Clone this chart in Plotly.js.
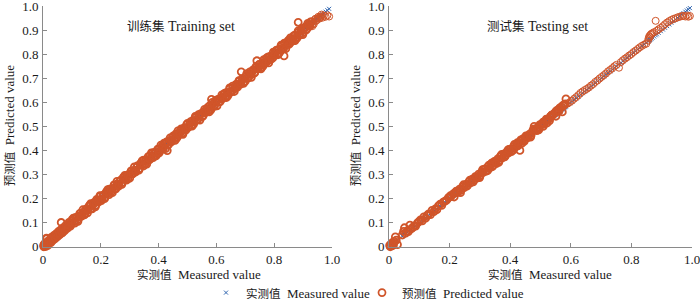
<!DOCTYPE html>
<html>
<head>
<meta charset="utf-8">
<script src="https://cdn.plot.ly/plotly-3.0.1.min.js"></script>
<style>html,body{margin:0;padding:0;background:#fff;}#chart{width:700px;height:308px;}</style>
</head>
<body>
<div id="chart"></div>
<script>
// ---------- Training set ----------
const trainMeasured = [
0.002,0.004,0.005,0.007,0.009,0.011,0.013,0.016,0.019,0.022,0.025,0.028,0.032,0.036,0.040,0.044,0.048,0.052,0.056,0.060,0.064,0.068,0.072,0.077,0.082,0.087,0.092,0.097,
0.102,0.108,0.113,0.118,0.124,0.129,0.134,0.140,0.145,0.150,0.156,0.161,0.166,0.172,0.177,0.182,0.188,0.193,0.198,0.204,0.209,0.214,0.220,0.225,0.230,0.236,0.241,0.246,0.252,0.257,0.262,0.268,0.273,0.278,0.284,0.289,0.294,0.300,0.305,0.310,0.316,0.321,0.326,0.332,0.337,0.342,0.348,0.353,0.358,0.364,0.369,0.374,0.380,0.385,0.390,0.396,
0.401,0.407,0.412,0.417,0.423,0.428,0.433,0.439,0.444,0.449,0.455,0.460,0.465,0.471,0.476,0.481,0.487,0.492,0.497,0.503,0.508,0.513,0.519,0.524,0.529,0.535,0.540,0.545,0.551,0.556,0.561,0.567,0.572,0.577,0.583,0.588,0.593,0.599,0.604,0.609,0.615,0.620,0.625,0.631,0.636,0.641,0.647,0.652,0.657,0.663,0.668,0.673,0.679,0.684,0.689,0.695,0.700,0.705,0.711,0.716,0.721,0.727,0.732,0.737,0.743,0.748,0.753,0.759,0.764,0.769,0.775,0.780,0.785,0.791,0.796,0.801,0.807,0.812,0.817,0.823,0.828,0.833,0.839,0.844,0.849,0.855,0.860,0.865,0.871,0.876,0.881,0.887,0.892,0.897,0.903,0.908,0.913,0.919,0.924,0.929,0.935,0.940,0.945,0.951,0.956,0.961,0.967,0.972,0.978,0.984,0.990,
0.686,0.740,0.583,0.883,0.834,0.430,0.063,0.012,
0.003,0.006,0.010,0.014,0.017,0.021,0.027,0.030,0.034,0.038,0.042,0.046,0.050,0.054,0.058,0.062,0.066,0.070,0.075,0.080,0.085,0.090,0.095,0.100,
0.105,0.110,0.116,0.121,0.127,0.132,0.138,0.143,0.148,0.154,0.159,0.165,0.170,0.175,0.181,0.186,0.192,0.197,0.202,0.208,0.213,0.219,0.224,0.229,0.235,0.240,0.246,0.251,0.256,0.262,0.267,0.273,0.278,0.283,0.289,0.294,0.300,0.305,0.310,0.316,0.321,0.327,0.332,0.337,0.343,0.348,0.354,0.359,0.364,0.370,0.375,0.381,0.386,0.391,0.397,
0.402,0.408,0.413,0.419,0.424,0.430,0.435,0.440,0.446,0.451,0.457,0.462,0.467,0.473,0.478,0.484,0.489,0.494,0.500,0.505,0.511,0.516,0.521,0.527,0.532,0.538,0.543,0.548,0.554,0.559,0.565,0.570,0.575,0.581,0.586,0.592,0.597,0.602,0.608,0.613,0.619,0.624,0.629,0.635,0.640,0.646,0.651,0.656,0.662,0.667,0.673,0.678,0.683,0.689,0.694,0.700,0.705,0.710,0.716,0.721,0.727,0.732,0.737,0.743,0.748,0.754,0.759,0.764,0.770,0.775,0.781,0.786,0.791,0.797,0.802,0.808,0.813,0.818,0.824,0.829,0.835,0.840,0.845,0.851,0.856,0.862,0.867,0.872,0.878,0.883,0.889,0.894,0.899,0.905,0.910,0.916,0.921,0.926,0.932,0.937,0.943,0.948,0.953,0.959,0.964
];
const trainPredicted = [
0.006,0.001,0.012,0.004,0.015,0.008,0.034,0.012,0.022,0.018,0.030,0.025,0.038,0.031,0.045,0.040,0.050,0.047,0.061,0.055,0.068,0.060,0.075,0.074,0.085,0.083,0.095,0.094,
0.108,0.104,0.122,0.111,0.127,0.139,0.128,0.144,0.136,0.157,0.153,0.172,0.158,0.174,0.185,0.172,0.193,0.191,0.210,0.198,0.213,0.205,0.227,0.222,0.240,0.229,0.243,0.255,0.241,0.262,0.258,0.276,0.267,0.289,0.281,0.295,0.284,0.304,0.314,0.303,0.319,0.316,0.336,0.324,0.343,0.340,0.360,0.344,0.362,0.358,0.377,0.370,0.391,0.378,0.393,0.386,
0.405,0.401,0.418,0.410,0.427,0.436,0.426,0.443,0.436,0.457,0.451,0.470,0.457,0.474,0.483,0.472,0.492,0.489,0.508,0.497,0.513,0.505,0.526,0.520,0.538,0.528,0.543,0.553,0.541,0.561,0.557,0.574,0.566,0.587,0.580,0.594,0.584,0.603,0.612,0.602,0.618,0.615,0.634,0.623,0.642,0.639,0.658,0.644,0.661,0.657,0.676,0.669,0.689,0.677,0.692,0.685,0.706,0.713,0.703,0.720,0.716,0.736,0.724,0.744,0.740,0.759,0.745,0.763,0.757,0.778,0.770,0.790,0.778,0.794,0.787,0.808,0.815,0.803,0.822,0.816,0.838,0.826,0.845,0.841,0.859,0.848,0.864,0.857,0.880,0.870,0.890,0.879,0.897,0.889,0.909,0.915,0.906,0.924,0.918,0.936,0.930,0.944,0.940,0.952,0.949,0.958,0.953,0.962,0.957,0.963,0.958,
0.728,0.774,0.613,0.934,0.794,0.400,0.101,0.036,
0.000,0.011,0.002,0.020,0.006,0.028,0.017,0.040,0.027,0.047,0.034,0.055,0.042,0.064,0.050,0.071,0.058,0.080,0.067,0.091,0.077,0.101,0.086,0.112,
0.119,0.098,0.120,0.106,0.138,0.126,0.154,0.133,0.155,0.141,0.168,0.179,0.158,0.179,0.166,0.197,0.186,0.213,0.192,0.215,0.200,0.228,0.238,0.217,0.239,0.225,0.257,0.245,0.272,0.252,0.274,0.260,0.287,0.297,0.277,0.298,0.285,0.316,0.304,0.332,0.311,0.334,0.319,0.346,0.357,0.336,0.358,0.344,0.375,0.364,0.391,0.371,0.393,0.378,0.406,
0.391,0.423,0.409,0.431,0.408,0.436,0.426,0.453,0.444,0.461,0.443,0.451,0.482,0.469,0.490,0.468,0.495,0.485,0.513,0.503,0.521,0.502,0.510,0.542,0.528,0.550,0.527,0.554,0.545,0.572,0.563,0.580,0.561,0.570,0.601,0.588,0.609,0.586,0.614,0.604,0.632,0.622,0.639,0.621,0.629,0.661,0.647,0.668,0.646,0.673,0.664,0.691,0.681,0.699,0.680,0.689,0.720,0.706,0.728,0.705,0.733,0.723,0.750,0.741,0.758,0.740,0.748,0.779,0.766,0.787,0.765,0.792,0.782,0.810,0.800,0.818,0.799,0.807,0.839,0.825,0.847,0.824,0.851,0.842,0.869,0.860,0.877,0.858,0.867,0.898,0.885,0.906,0.883,0.911,0.901,0.929,0.919,0.936,0.918,0.926,0.949,0.944,0.957,0.953,0.966
];

// ---------- Testing set ----------
const testMeasured = [
0.002,0.004,0.007,0.010,0.012,0.015,0.018,0.021,0.024,0.028,0.044,0.048,0.051,0.055,0.060,0.064,0.069,0.073,0.078,0.083,0.088,0.094,0.099,0.104,0.110,0.115,0.121,0.126,0.131,0.137,0.142,0.148,0.153,0.158,0.163,0.169,0.174,0.179,0.185,0.190,0.196,0.201,0.206,0.212,0.217,0.222,0.227,0.233,0.238,0.243,0.248,0.254,0.259,0.264,0.269,0.275,0.280,0.285,0.290,0.296,0.301,0.306,0.311,0.317,0.322,0.327,0.332,0.338,0.343,0.348,0.353,0.359,0.364,0.369,0.374,0.380,0.385,0.390,0.395,0.401,0.406,0.411,0.416,0.422,0.427,0.432,0.437,0.443,0.448,0.453,0.458,0.464,0.469,0.474,0.479,0.485,0.490,0.495,0.501,0.506,0.511,0.516,0.522,0.527,0.532,0.537,0.543,0.548,0.553,0.558,0.564,0.569,0.574,0.580,0.584,
0.590,0.597,0.604,0.611,0.618,0.625,0.632,0.639,0.646,0.653,0.660,0.667,0.674,0.681,0.688,0.695,0.702,0.709,0.716,0.723,0.730,0.737,0.744,0.751,0.759,0.765,0.772,0.779,0.786,0.793,0.800,0.807,0.814,0.821,0.828,0.835,0.842,0.849,0.855,0.857,0.859,0.861,0.863,0.866,0.870,0.875,0.880,0.884,0.890,0.897,0.904,0.911,0.918,0.925,0.932,0.939,0.946,0.953,0.960,0.967,0.972,0.978,0.983,0.988,0.993,
0.203,0.215,0.225,0.236,0.246,0.257,0.267,0.278,0.288,0.299,0.309,0.320,0.330,0.341,0.351,0.362,0.372,0.383,0.393,0.404,0.414,0.425,0.435,0.446,0.456,0.467,0.477,0.488,0.498,0.509,0.519,0.530,0.540,0.551,0.561,0.572,0.582,
0.298,0.312,0.326,0.340,0.354,0.368,0.382,0.396,0.410,0.424,0.438,0.452,0.466,0.480,0.494,0.508,0.522,0.536,0.550,0.564,0.578
];
const testPredicted = [
0.006,0.000,0.012,0.004,0.018,0.008,0.022,0.041,0.028,0.009,0.049,0.064,0.079,0.057,0.066,0.063,0.090,0.074,0.080,0.087,0.086,0.099,0.105,0.112,0.108,0.124,0.119,0.131,0.137,0.134,0.151,0.146,0.158,0.154,0.170,0.177,0.172,0.186,0.190,0.194,0.204,0.207,0.212,0.220,0.224,0.231,0.226,0.240,0.236,0.250,0.246,0.259,0.255,0.271,0.266,0.281,0.277,0.292,0.286,0.302,0.297,0.312,0.309,0.324,0.316,0.334,0.328,0.346,0.337,0.355,0.349,0.366,0.358,0.377,0.370,0.386,0.381,0.397,0.391,0.406,0.402,0.418,0.413,0.428,0.423,0.401,0.441,0.450,0.445,0.460,0.454,0.469,0.464,0.482,0.501,0.488,0.496,0.493,0.507,0.511,0.509,0.523,0.527,0.532,0.541,0.548,0.551,0.558,0.566,0.570,0.578,0.582,0.588,0.591,0.615,
0.596,0.602,0.608,0.616,0.623,0.631,0.640,0.646,0.652,0.657,0.663,0.671,0.677,0.686,0.692,0.700,0.707,0.714,0.721,0.730,0.736,0.743,0.751,0.757,0.745,0.768,0.776,0.783,0.789,0.796,0.802,0.810,0.816,0.823,0.830,0.836,0.841,0.845,0.858,0.868,0.876,0.872,0.882,0.886,0.889,0.893,0.940,0.899,0.905,0.911,0.918,0.926,0.933,0.939,0.944,0.948,0.951,0.955,0.957,0.960,0.961,0.958,0.962,0.957,0.960,
0.213,0.207,0.228,0.225,0.258,0.252,0.277,0.270,0.291,0.288,0.321,0.315,0.340,0.333,0.354,0.351,0.384,0.378,0.403,0.396,0.426,0.420,0.445,0.438,0.459,0.456,0.489,0.483,0.508,0.501,0.531,0.525,0.550,0.543,0.564,0.561,0.594,
0.291,0.321,0.318,0.349,0.346,0.377,0.374,0.405,0.402,0.433,0.430,0.461,0.458,0.489,0.486,0.518,0.515,0.547,0.561,0.576,0.590
];

// ---------- Labels ----------
const xTickVals = [0, 0.2, 0.4, 0.6, 0.8, 1.0];
const xTickText = ['0', '0.2', '0.4', '0.6', '0.8', '1.0'];
const yTickVals = [0, 0.1, 0.2, 0.3, 0.4, 0.5, 0.6, 0.7, 0.8, 0.9, 1.0];
const yTickText = ['0', '0.1', '0.2', '0.3', '0.4', '0.5', '0.6', '0.7', '0.8', '0.9', '1.0'];
const panelTitlesCn = ['训练集', '测试集'];
const panelTitlesEn = ['Training set', 'Testing set'];
const xTitleCn = '实测值', xTitleEn = 'Measured value';
const yTitleCn = '预测值', yTitleEn = 'Predicted value';
const seriesCn = ['实测值', '预测值'];
const seriesEn = ['Measured value', 'Predicted value'];

const FONT = 'Liberation Serif, Times New Roman, Noto Sans CJK SC, serif';
const CJK = 'Noto Sans CJK SC';
const BLUE = '#3166B0';
const ORANGE = '#D0552A';
const TXT = '#1a1a1a';

function mix(cn, en, cnSize, gap) {
  return '<span style="font-family:' + CJK + ';font-size:' + cnSize + 'px">' + cn + '</span>' + gap + en;
}

// dense (overlapping) part of each cloud gets a heavier ring so it reads as a solid band
function ringWidths(m, limit) {
  return m.map(v => (v < limit ? 1.8 : 1.0));
}

function measuredTrace(m, xa, ya, show) {
  return {x: m, y: m, xaxis: xa, yaxis: ya, type: 'scatter', mode: 'markers',
    name: mix(seriesCn[0], seriesEn[0], 11.5, '  '), showlegend: show, legend: 'legend', cliponaxis: false,
    marker: {symbol: 'x-thin-open', size: 4, color: BLUE, line: {color: BLUE, width: 1}}};
}
function predictedTrace(m, p, xa, ya, show, limit) {
  return {x: m, y: p, xaxis: xa, yaxis: ya, type: 'scatter', mode: 'markers',
    name: mix(seriesCn[1], seriesEn[1], 11.5, '  '), showlegend: show, legend: 'legend2', cliponaxis: false,
    marker: {symbol: 'circle-open', size: 7, color: ORANGE, line: {color: ORANGE, width: ringWidths(m, limit)}}};
}

const data = [
  measuredTrace(trainMeasured, 'x', 'y', true),
  predictedTrace(trainMeasured, trainPredicted, 'x', 'y', true, 0.93),
  measuredTrace(testMeasured, 'x2', 'y2', false),
  predictedTrace(testMeasured, testPredicted, 'x2', 'y2', false, 0.59)
];

function axis(domain, anchor, vals, text) {
  return {domain: domain, anchor: anchor, range: [0, 1], tickvals: vals, ticktext: text,
    showline: true, linecolor: '#8a8a8a', linewidth: 1, ticks: 'inside', ticklen: 4, tickcolor: '#8a8a8a',
    showgrid: false, zeroline: false, ticklabeloverflow: 'allow', ticklabelstandoff: 1,
    tickfont: {family: FONT, size: 13, color: TXT}};
}

function legendAt(px) {
  return {orientation: 'h', x: px/700, xanchor: 'left', y: -0.012, yanchor: 'bottom',
    font: {family: FONT, size: 13, color: TXT}, itemwidth: 30, bgcolor: 'rgba(0,0,0,0)'};
}

const yDom = [58/308, 301.5/308];
const titleFont = {family: FONT, size: 14, color: TXT};
const labFont = {family: FONT, size: 13, color: TXT};
const layout = {
  width: 700, height: 308,
  margin: {l: 0, r: 0, t: 0, b: 0},
  paper_bgcolor: '#fff', plot_bgcolor: '#fff',
  font: {family: FONT, size: 13, color: TXT},
  xaxis: axis([43/700, 332/700], 'y', xTickVals, xTickText),
  yaxis: axis(yDom, 'x', yTickVals, yTickText),
  xaxis2: axis([389/700, 692/700], 'y2', xTickVals, xTickText),
  yaxis2: axis(yDom, 'x2', yTickVals, yTickText),
  showlegend: true,
  legend: legendAt(206),
  legend2: legendAt(362),
  annotations: [
    {text: mix(panelTitlesCn[0], panelTitlesEn[0], 12.5, ' '), xref: 'paper', yref: 'paper', x: 181/700, y: 1 - 26/308, xanchor: 'center', yanchor: 'middle', showarrow: false, font: titleFont},
    {text: mix(panelTitlesCn[1], panelTitlesEn[1], 12.5, ' '), xref: 'paper', yref: 'paper', x: 537/700, y: 1 - 26/308, xanchor: 'center', yanchor: 'middle', showarrow: false, font: titleFont},
    {text: mix(xTitleCn, xTitleEn, 11.5, '  '), xref: 'paper', yref: 'paper', x: 199/700, y: 1 - 278/308, xanchor: 'center', yanchor: 'middle', showarrow: false, font: labFont},
    {text: mix(xTitleCn, xTitleEn, 11.5, '  '), xref: 'paper', yref: 'paper', x: 550/700, y: 1 - 278/308, xanchor: 'center', yanchor: 'middle', showarrow: false, font: labFont},
    {text: mix(yTitleCn, yTitleEn, 11.5, '  '), xref: 'paper', yref: 'paper', x: 9/700, y: 1 - 127/308, xanchor: 'center', yanchor: 'middle', textangle: -90, showarrow: false, font: labFont},
    {text: mix(yTitleCn, yTitleEn, 11.5, '  '), xref: 'paper', yref: 'paper', x: 355/700, y: 1 - 127/308, xanchor: 'center', yanchor: 'middle', textangle: -90, showarrow: false, font: labFont}
  ]
};

Plotly.newPlot('chart', data, layout, {displayModeBar: false, staticPlot: true});
</script>
</body>
</html>
